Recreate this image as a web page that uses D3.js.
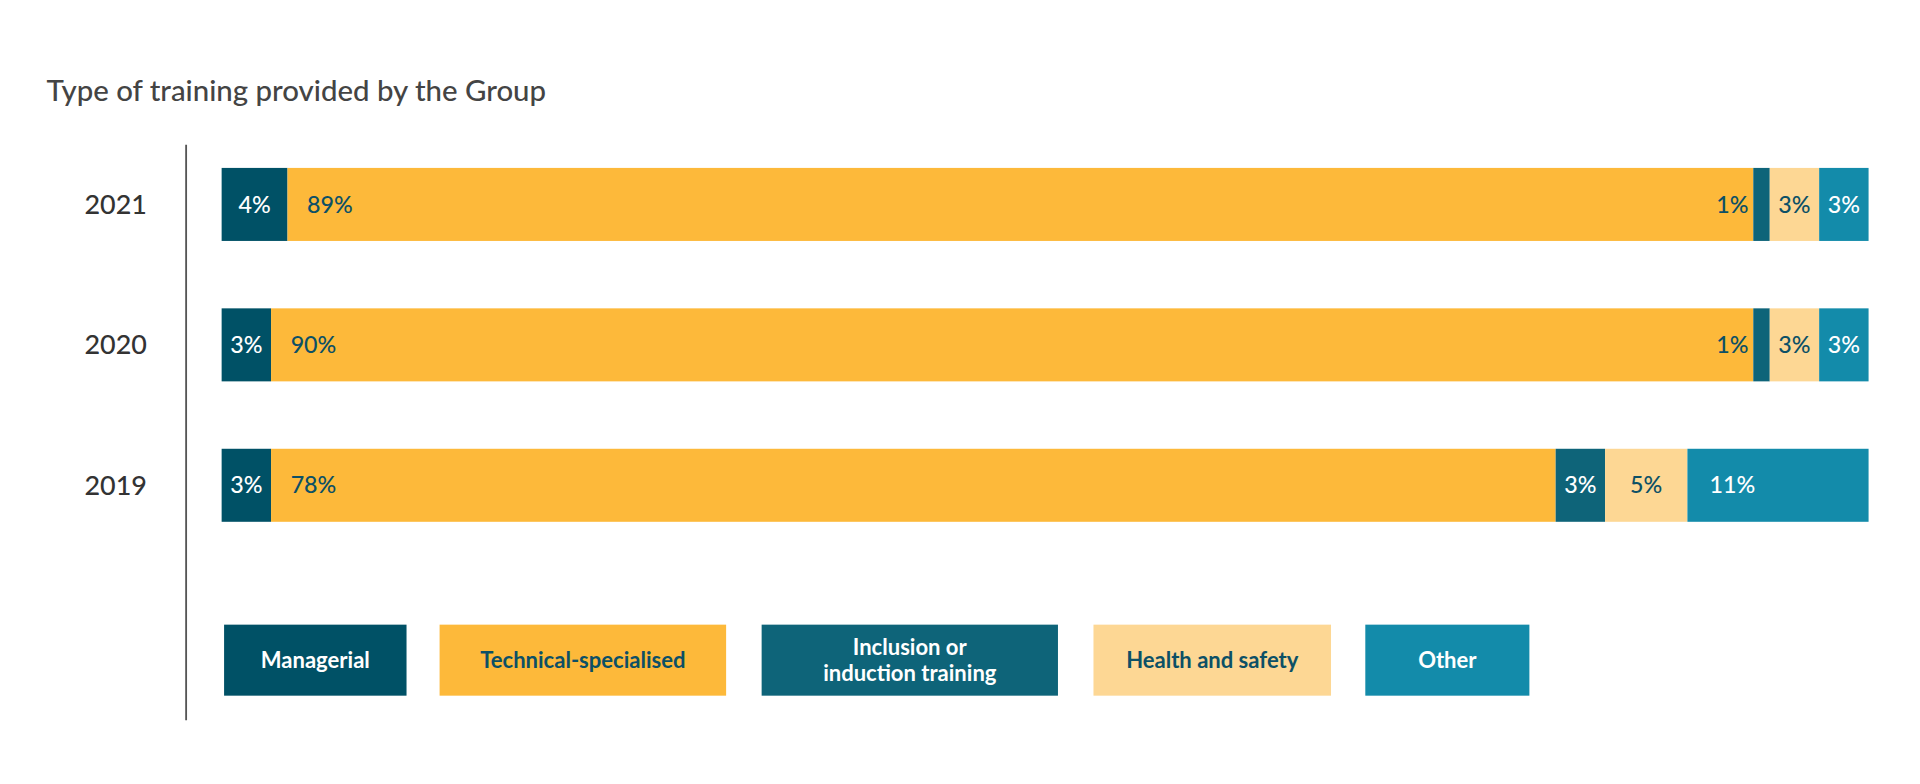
<!DOCTYPE html>
<html><head><meta charset="utf-8">
<script src="https://cdn.jsdelivr.net/npm/d3@7"></script>
<style>body{margin:0;background:#fff}text{font-family:Lato,"Noto Sans",sans-serif}</style>
</head><body>
<svg id="chart" width="1920" height="784" viewBox="0 0 1568 640"></svg>
<script>
var years = ["2021", "2020", "2019"];
var categories = ["Managerial", "Technical-specialised", "Inclusion or induction training", "Health and safety", "Other"];
var managerial = [4, 3, 3];
var technical = [89, 90, 78];
var inclusion = [1, 1, 3];
var health = [3, 3, 5];
var other = [3, 3, 11];

var colors = ["#005166", "#fdb93a", "#0e6479", "#fdd794", "#138baa"];
var textColors = ["#fff", "#0c5066", "#fff", "#0c5066", "#fff"];
var series = [managerial, technical, inclusion, health, other];

var svg = d3.select("#chart");

svg.append("text").attr("x", 38).attr("y", 82)
  .attr("font-size", 24).attr("font-weight", 500).attr("fill", "#444")
  .text("Type of training provided by the Group");

var x = d3.scaleLinear().domain([0, 100]).range([181, 1526]);
var y = d3.scaleBand().domain(years).range([137, 426]).paddingInner(0.48);

svg.append("line").attr("x1", 152).attr("x2", 152).attr("y1", 118).attr("y2", 588)
  .attr("stroke", "#555").attr("stroke-width", 1.5);

svg.selectAll(".year").data(years).enter().append("text")
  .attr("x", 120).attr("y", function(d){ return y(d) + y.bandwidth()/2; })
  .attr("dy", "0.35em").attr("text-anchor", "end")
  .attr("font-size", 22).attr("font-weight", 500).attr("fill", "#333")
  .text(function(d){ return d; });

years.forEach(function(yr, i) {
  var start = 0;
  series.forEach(function(s, c) {
    var v = s[i];
    var x0 = x(start), x1 = x(start + v);
    start += v;
    svg.append("rect").attr("x", x0).attr("y", y(yr))
      .attr("width", x1 - x0).attr("height", y.bandwidth()).attr("fill", colors[c]);
    var w = x1 - x0, tx, anchor, fill = textColors[c];
    if (c == 1) { tx = x0 + 16; anchor = "start"; }
    else if (w < 20) { tx = x0 - 4; anchor = "end"; fill = textColors[1]; }
    else if (w > 80) { tx = x0 + 18; anchor = "start"; }
    else { tx = (x0 + x1) / 2; anchor = "middle"; }
    svg.append("text").attr("x", tx).attr("y", y(yr) + y.bandwidth()/2)
      .attr("dy", "0.35em").attr("text-anchor", anchor)
      .attr("font-size", 19).attr("font-weight", 500).attr("fill", fill)
      .text(v + "%");
  });
});

var legX = [183, 359, 622, 893, 1115];
var legW = [149, 234, 242, 194, 134];
var legLines = [["Managerial"], ["Technical-specialised"], ["Inclusion or", "induction training"], ["Health and safety"], ["Other"]];
categories.forEach(function(cat, c) {
  svg.append("rect").attr("x", legX[c]).attr("y", 510).attr("width", legW[c]).attr("height", 58)
    .attr("fill", colors[c]);
  var lines = legLines[c];
  lines.forEach(function(l, k) {
    svg.append("text").attr("x", legX[c] + legW[c]/2)
      .attr("y", 539 + (k - (lines.length - 1)/2) * 21)
      .attr("dy", "0.35em").attr("text-anchor", "middle")
      .attr("font-size", 18).attr("font-weight", 700).attr("fill", textColors[c])
      .text(l);
  });
});
</script>
</body></html>
